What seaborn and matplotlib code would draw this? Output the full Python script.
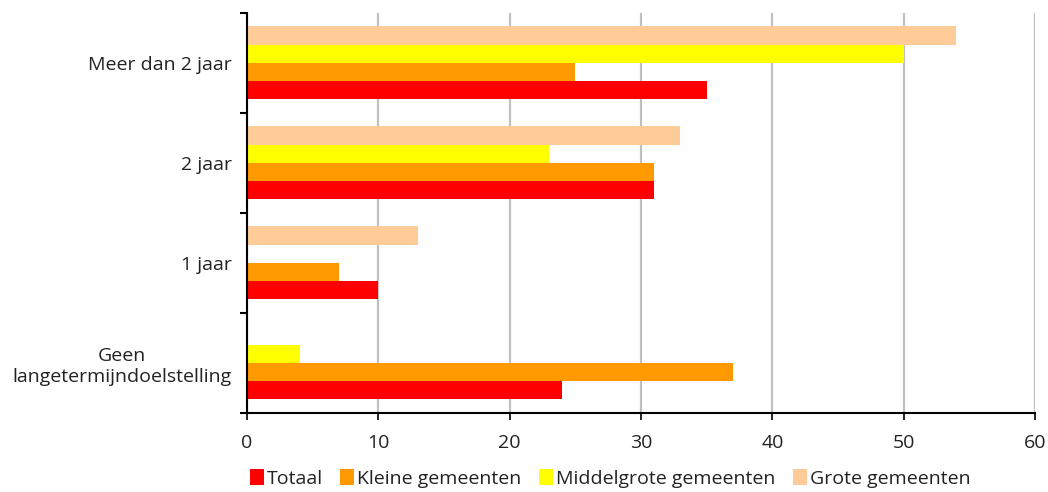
import pandas as pd
import matplotlib.pyplot as plt
import seaborn as sns
from matplotlib.patches import Patch
from matplotlib.ticker import FixedLocator

# Categorieën (van boven naar beneden)
categories = ["Meer dan 2 jaar", "2 jaar", "1 jaar", "Geen\nlangetermijndoelstelling"]

# Reeksen (percentages)
grote = [54, 33, 13, 0]
middelgrote = [50, 23, 0, 4]
kleine = [25, 31, 7, 37]
totaal = [35, 31, 10, 24]

series_names = ["Grote gemeenten", "Middelgrote gemeenten", "Kleine gemeenten", "Totaal"]
series_values = [grote, middelgrote, kleine, totaal]
colors = ["#FFCC99", "#FFFF00", "#FF9900", "#FF0000"]
legend_order = ["Totaal", "Kleine gemeenten", "Middelgrote gemeenten", "Grote gemeenten"]

rows = []
for name, vals in zip(series_names, series_values):
    for cat, v in zip(categories, vals):
        rows.append({"categorie": cat, "reeks": name, "waarde": v})
data = pd.DataFrame(rows)

sns.set_theme(style="white")
plt.rcParams["font.family"] = ["Open Sans", "DejaVu Sans"]
fs = 14

fig = plt.figure(figsize=(10.48, 4.92), dpi=100)
ax = fig.add_axes([0.2357, 0.1606, 0.7519, 0.813])

palette = dict(zip(series_names, colors))
sns.barplot(
    data=data, x="waarde", y="categorie", hue="reeks",
    order=categories, hue_order=series_names, palette=palette,
    orient="h", width=0.73, saturation=1, ax=ax, legend=False,
    linewidth=0, edgecolor="none",
)

ax.set_xlim(0, 60)
ax.set_ylim(3.5, -0.5)
ax.set_xticks(range(0, 61, 10))
ax.set_xlabel("")
ax.set_ylabel("")

ax.grid(axis="x", color="#C0C0C0", linewidth=1.6)
ax.set_axisbelow(True)
for s in ["top", "right"]:
    ax.spines[s].set_visible(False)
for s in ["left", "bottom"]:
    ax.spines[s].set_color("black")
    ax.spines[s].set_linewidth(1.5)

ax.tick_params(axis="y", which="major", length=0, pad=11, labelsize=fs, colors="#222222")
ax.yaxis.set_minor_locator(FixedLocator([-0.5, 0.5, 1.5, 2.5, 3.5]))
ax.tick_params(axis="y", which="minor", left=True, length=5, width=1.5, color="black", direction="out")
ax.tick_params(axis="x", which="major", bottom=True, length=5, width=1.2, color="black",
               direction="out", labelsize=fs, pad=10, labelcolor="#222222")
for lbl in ax.get_yticklabels():
    lbl.set_multialignment("center")

handles = [Patch(facecolor=palette[n], edgecolor="none") for n in legend_order]
fig.legend(handles, legend_order, loc="center", bbox_to_anchor=(0.582, 0.027), ncol=4,
           frameon=False, fontsize=fs, handlelength=0.72, handleheight=0.85,
           handletextpad=0.15, columnspacing=0.9, labelcolor="#222222",
           borderpad=0.1)

fig.savefig("out.png", dpi=100)
